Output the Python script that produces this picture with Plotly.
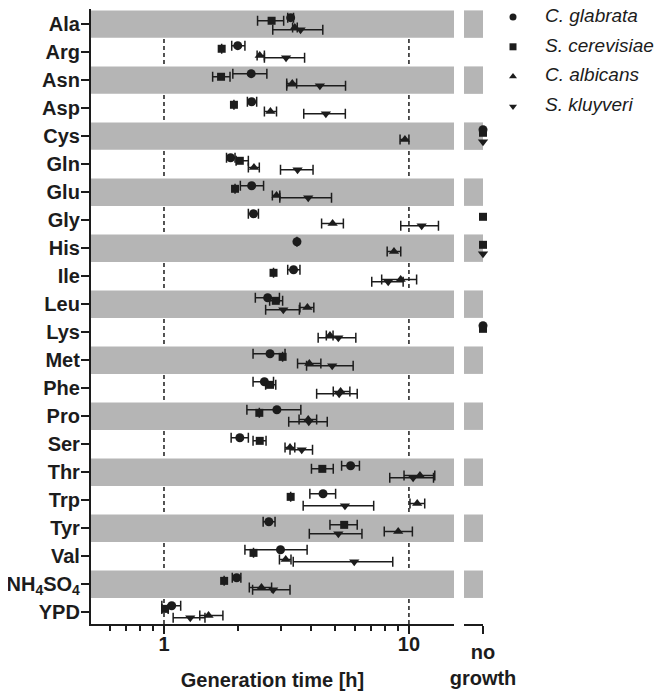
import plotly.graph_objects as go

# ---------------- data ----------------
rows = ["Ala", "Arg", "Asn", "Asp", "Cys", "Gln", "Glu", "Gly", "His", "Ile", "Leu",
        "Lys", "Met", "Phe", "Pro", "Ser", "Thr", "Trp", "Tyr", "Val",
        "NH<sub>4</sub>SO<sub>4</sub>", "YPD"]
species = ["C. glabrata", "S. cerevisiae", "C. albicans", "S. kluyveri"]

# generation time [h]; None = no growth
glabrata    = [3.29, 2.00, 2.27, 2.28, None, 1.87, 2.28, 2.32, 3.49, 3.38, 2.65,
               None, 2.71, 2.57, 2.89, 2.04, 5.78, 4.46, 2.68, 2.99, 1.98, 1.075]
glabrata_lo = [3.20, 1.89, 1.91, 2.19, None, 1.80, 2.05, 2.21, None, 3.20, 2.36,
               None, 2.31, 2.31, 2.18, 1.88, 5.31, 3.94, 2.54, 2.14, 1.90, 0.98]
glabrata_hi = [3.38, 2.14, 2.63, 2.39, None, 1.95, 2.55, 2.43, None, 3.59, 2.96,
               None, 3.12, 2.80, 3.62, 2.21, 6.28, 5.02, 2.84, 3.84, 2.06, 1.17]

cerevisiae    = [2.75, 1.72, 1.71, 1.93, None, 2.04, 1.95, None, None, 2.80, 2.86,
                 None, 3.05, 2.71, 2.45, 2.46, 4.43, 3.29, 5.44, 2.32, 1.76, 1.01]
cerevisiae_lo = [2.41, None, 1.58, None, None, 1.97, None, None, None, None, 2.70,
                 None, None, 2.60, None, 2.31, 4.00, None, 4.76, None, None, 0.98]
cerevisiae_hi = [3.08, None, 1.86, None, None, 2.21, None, None, None, None, 3.05,
                 None, None, 2.86, None, 2.61, 4.91, None, 6.15, None, None, 1.04]

albicans    = [3.42, 2.46, 3.34, 2.72, 9.63, 2.33, 2.88, 4.88, 8.69, 9.25, 3.85,
               4.76, 3.92, 5.26, 3.88, 3.27, 11.09, 10.81, 9.04, 3.14, 2.50, 1.52]
albicans_lo = [3.35, 2.40, 3.17, 2.57, 9.20, 2.21, 2.77, 4.40, 8.15, 7.74, 3.59,
               4.60, 3.51, 4.91, 3.56, 3.12, 9.55, 10.10, 7.93, 2.96, 2.23, 1.40]
albicans_hi = [3.50, 2.57, 3.48, 2.88, 10.0, 2.45, 2.97, 5.40, 9.26, 10.75, 4.09,
               4.90, 4.37, 5.74, 4.20, 3.42, 12.75, 11.60, 10.33, 3.30, 2.75, 1.74]

kluyveri    = [3.61, 3.15, 4.33, 4.58, None, 3.51, 3.88, 11.27, None, 8.23, 3.07,
               5.15, 4.86, 5.19, 3.90, 3.65, 10.40, 5.48, 5.15, 5.98, 2.79, 1.28]
kluyveri_lo = [2.78, 2.57, 3.17, 3.72, None, 2.99, 2.97, 9.26, None, 7.05, 2.60,
               4.26, 3.82, 4.20, 3.23, 3.27, 8.35, 3.70, 3.92, 3.37, 2.30, 1.09]
kluyveri_hi = [4.45, 3.75, 5.51, 5.50, None, 4.06, 4.83, 13.20, None, 9.47, 3.57,
               6.07, 5.92, 6.15, 4.64, 4.04, 12.60, 7.18, 6.43, 8.59, 3.27, 1.47]

x_ticks = [1, 10]
x_minor = [0.6, 0.7, 0.8, 0.9, 2, 3, 4, 5, 6, 7, 8, 9]
no_growth_label = "no<br>growth"
x_title = "Generation time [h]"

# ---------------- styling ----------------
INK = "#1c1c1c"
BAND = "#b5b5b5"
FONT = "Liberation Sans, Arial, sans-serif"
OFF = 8                       # the page body adds an 8px offset
W, H = 666 - OFF, 691 - OFF
ML, MT, MB = 91 - OFF, 9 - OFF, 67
PW = W - ML                   # plot area runs to the right edge; domains carve it up


def dom(px0, px1):
    """page pixel span -> paper domain"""
    return [(px0 - OFF - ML) / PW, (px1 - OFF - ML) / PW]


series = [
    (species[0], glabrata, glabrata_lo, glabrata_hi, "circle", 9, -0.23),
    (species[1], cerevisiae, cerevisiae_lo, cerevisiae_hi, "square", 8, -0.12),
    (species[2], albicans, albicans_lo, albicans_hi, "triangle-up", 9, 0.12),
    (species[3], kluyveri, kluyveri_lo, kluyveri_hi, "triangle-down", 9, 0.20),
]

fig = go.Figure()

for name, vals, lo, hi, sym, size, off in series:
    xs, ys, plus, minus = [], [], [], []
    ng_y = []
    for i, v in enumerate(vals):
        if v is None:
            ng_y.append(i + off)
            continue
        xs.append(v)
        ys.append(i + off)
        plus.append(None if hi[i] is None else hi[i] - v)
        minus.append(None if lo[i] is None else v - lo[i])
    fig.add_trace(go.Scatter(
        x=xs, y=ys, mode="markers", xaxis="x", yaxis="y",
        marker=dict(symbol=sym, size=size, color=INK),
        error_x=dict(type="data", array=plus, arrayminus=minus, symmetric=False,
                     color=INK, thickness=1.5, width=5),
        showlegend=False, cliponaxis=False, hoverinfo="skip"))
    if ng_y:
        fig.add_trace(go.Scatter(
            x=[1] * len(ng_y), y=ng_y, mode="markers", xaxis="x2", yaxis="y",
            marker=dict(symbol=sym, size=size, color=INK),
            showlegend=False, cliponaxis=False, hoverinfo="skip"))

# legend key (own hidden axes to the right of the chart)
fig.add_trace(go.Scatter(
    x=[0] * len(series), y=list(range(len(series))), mode="markers",
    xaxis="x3", yaxis="y3",
    marker=dict(symbol=[s[4] for s in series], size=7, color=INK),
    showlegend=False, cliponaxis=False, hoverinfo="skip"))
fig.add_trace(go.Scatter(
    x=[1] * len(series), y=list(range(len(series))), mode="text",
    xaxis="x3", yaxis="y3",
    text=[f"<i>{s[0]}</i>" for s in series], textposition="middle right",
    textfont=dict(family=FONT, size=19, color=INK),
    showlegend=False, cliponaxis=False, hoverinfo="skip"))

shapes = []
# dashed reference lines at the major ticks (covered by grey bands)
for xv in x_ticks:
    shapes.append(dict(type="line", xref="x", yref="y domain", x0=xv, x1=xv, y0=0, y1=1,
                       line=dict(color=INK, width=1.5, dash="4px,3px"), layer="below"))
# alternating grey bands
for i in range(0, len(rows), 2):
    for xr in ("x domain", "x2 domain"):
        shapes.append(dict(type="rect", xref=xr, yref="y", x0=0, x1=1,
                           y0=i - 0.49, y1=i + 0.49,
                           fillcolor=BAND, line=dict(width=0), layer="below"))

axis_common = dict(showline=True, linewidth=2.2, linecolor=INK, ticks="outside",
                   tickwidth=2, tickcolor=INK, zeroline=False, automargin=False,
                   tickfont=dict(family=FONT, size=20, color=INK, weight="bold"))

# legend geometry (page px): key ~513, text ~545, rows every ~30px from y~15
leg_x0, leg_x1 = 500, 666
key_px, text_px = 513, 545
leg_top, leg_bot, first_px, step_px = 9, 129, 17, 29.8
plot_h = H - MT - MB
y3_dom = [((691 - MB) - leg_bot) / plot_h, 1]
y3_rng = [(leg_bot - first_px) / step_px, -(first_px - leg_top) / step_px]

fig.update_layout(
    width=W, height=H,
    margin=dict(l=ML, r=0, t=MT, b=MB),
    plot_bgcolor="white", paper_bgcolor="white",
    shapes=shapes, showlegend=False,
    font=dict(family=FONT, color=INK),
    xaxis=dict(type="log", domain=dom(91, 454), range=[-0.298, 1.184],
               tickvals=x_ticks, ticktext=["1", "10"], ticklen=8, showgrid=False,
               minor=dict(tickvals=x_minor, ticks="outside", ticklen=5,
                          tickwidth=2, tickcolor=INK, showgrid=False),
               ticklabelstandoff=-7,
               title=dict(text=x_title, standoff=19,
                          font=dict(family=FONT, size=20, color=INK, weight="bold")),
               anchor="y", **axis_common),
    xaxis2=dict(domain=dom(464, 483), range=[0, 1], tickvals=[1],
                ticktext=[no_growth_label], ticklen=8, showgrid=False,
                ticklabelstandoff=1, anchor="y", **axis_common),
    yaxis=dict(range=[21.42, -0.54], tickvals=list(range(len(rows))),
               ticktext=rows, ticklen=8, showgrid=False, anchor="x",
               ticklabelstandoff=-3, **axis_common),
    xaxis3=dict(domain=dom(leg_x0, leg_x1), visible=False, anchor="y3",
                range=[-(key_px - leg_x0) / (text_px - key_px),
                       (leg_x1 - key_px) / (text_px - key_px)]),
    yaxis3=dict(domain=y3_dom, range=y3_rng, visible=False, anchor="x3"),
)

fig.write_html("out.html")
